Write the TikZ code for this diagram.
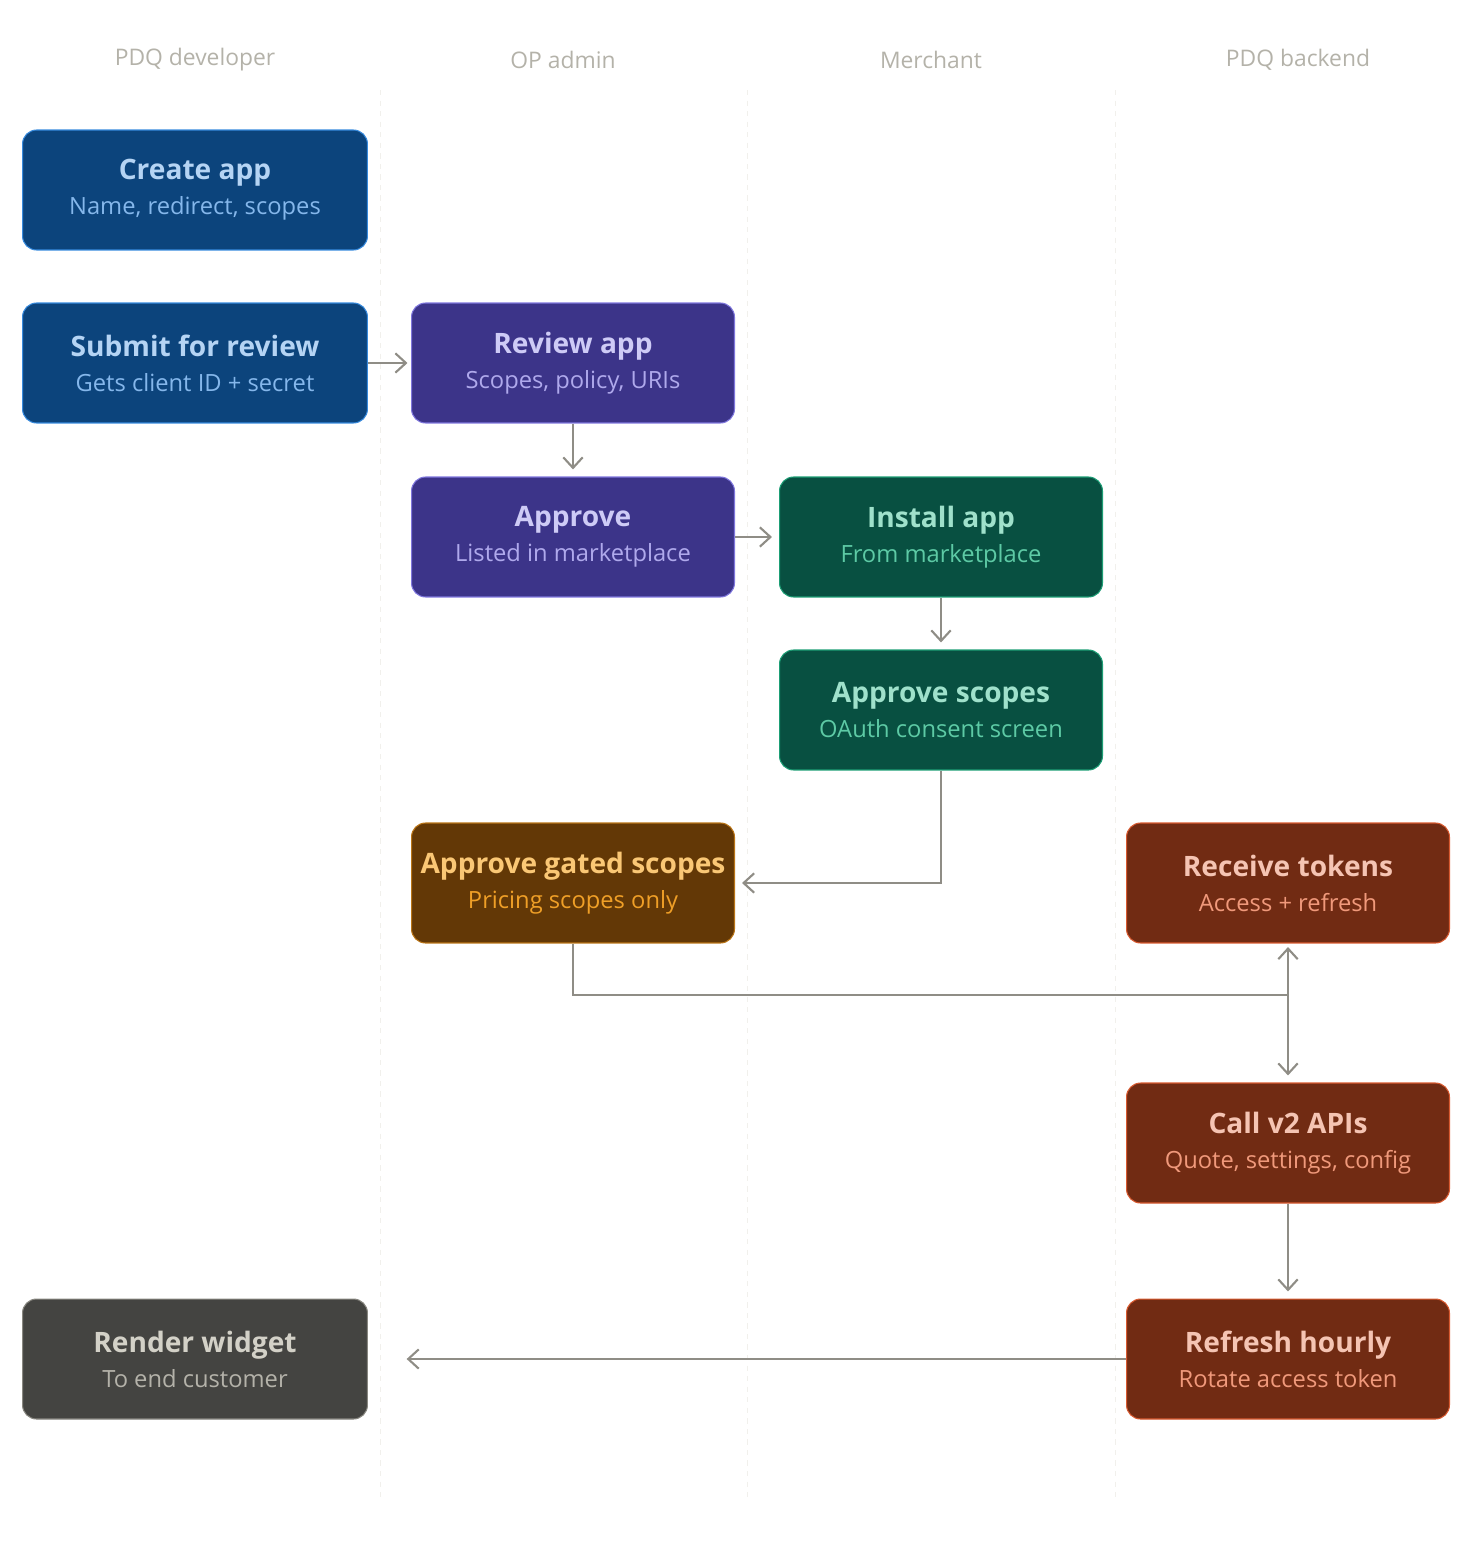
\documentclass[tikz,border=0pt]{standalone}
\usepackage{fontspec}
\setmainfont{Open Sans}
\usetikzlibrary{arrows.meta, positioning}

\definecolor{laneline}{HTML}{F1F0EC}
\definecolor{lanetext}{HTML}{B4B2A9}
\definecolor{wire}{HTML}{8F8D86}
\definecolor{devfill}{HTML}{0C447C}
\definecolor{devline}{HTML}{378ADD}
\definecolor{devhead}{HTML}{B5D4F4}
\definecolor{devsub}{HTML}{85B7EB}
\definecolor{opfill}{HTML}{3C3489}
\definecolor{opline}{HTML}{7F77DD}
\definecolor{ophead}{HTML}{CECBF6}
\definecolor{opsub}{HTML}{AFA9EC}
\definecolor{mfill}{HTML}{085041}
\definecolor{mline}{HTML}{1D9E75}
\definecolor{mhead}{HTML}{9FE1CB}
\definecolor{msub}{HTML}{5DCAA5}
\definecolor{gfill}{HTML}{633806}
\definecolor{gline}{HTML}{BA7517}
\definecolor{ghead}{HTML}{FAC775}
\definecolor{gsub}{HTML}{EF9F27}
\definecolor{bfill}{HTML}{712B13}
\definecolor{bline}{HTML}{D85A30}
\definecolor{bhead}{HTML}{F5C4B3}
\definecolor{bsub}{HTML}{F0997B}
\definecolor{wfill}{HTML}{444441}
\definecolor{wline}{HTML}{888780}
\definecolor{whead}{HTML}{D3D1C7}
\definecolor{wsub}{HTML}{B4B2A9}

\tikzset{
  stepbox/.style={draw, rectangle, rounded corners=0.28cm, line width=0.6pt,
    minimum width=6.46cm, minimum height=2.4cm, align=center,
    font=\fontsize{13.5pt}{20pt}\selectfont},
  devbox/.style={stepbox, fill=devfill, draw=devline, minimum width=6.9cm},
  opbox/.style={stepbox, fill=opfill, draw=opline},
  merchbox/.style={stepbox, fill=mfill, draw=mline},
  gatebox/.style={stepbox, fill=gfill, draw=gline},
  backbox/.style={stepbox, fill=bfill, draw=bline},
  widgetbox/.style={stepbox, fill=wfill, draw=wline, minimum width=6.9cm},
  lanelabel/.style={text=lanetext, font=\fontsize{13pt}{15pt}\selectfont},
  flowarrow/.style={draw=wire, line width=1.2pt, -{Straight Barb[length=6pt, width=11pt]}},
  flowline/.style={draw=wire, line width=1.2pt}
}

\begin{document}
\begin{tikzpicture}[x=0.02cm, y=-0.02cm]
        \useasboundingbox (0,0) rectangle (1472,1558);

        % lanes
        \foreach \x in {380, 747, 1115}
            \draw[laneline, dash pattern=on 3pt off 3pt] (\x,90) -- (\x,1500);
        \node (hdev) [lanelabel] at (195,60) {PDQ developer};
        \node (hop) [lanelabel] at (563,60) {OP admin};
        \node (hmerch) [lanelabel] at (931,60) {Merchant};
        \node (hback) [lanelabel] at (1298,60) {PDQ backend};

        % steps
        \node (create) [devbox] at (195,190) {\textcolor{devhead}{\fontsize{16pt}{20pt}\selectfont\bfseries Create app}\\\textcolor{devsub}{Name, redirect, scopes}};
        \node (submit) [devbox] at (195,363) {\textcolor{devhead}{\fontsize{16pt}{20pt}\selectfont\bfseries Submit for review}\\\textcolor{devsub}{Gets client ID + secret}};
        \node (review) [opbox] at (573,363) {\textcolor{ophead}{\fontsize{16pt}{20pt}\selectfont\bfseries Review app}\\\textcolor{opsub}{Scopes, policy, URIs}};
        \node (approve) [opbox] at (573,537) {\textcolor{ophead}{\fontsize{16pt}{20pt}\selectfont\bfseries Approve}\\\textcolor{opsub}{Listed in marketplace}};
        \node (install) [merchbox] at (941,537) {\textcolor{mhead}{\fontsize{16pt}{20pt}\selectfont\bfseries Install app}\\\textcolor{msub}{From marketplace}};
        \node (scopes) [merchbox] at (941,710) {\textcolor{mhead}{\fontsize{16pt}{20pt}\selectfont\bfseries Approve scopes}\\\textcolor{msub}{OAuth consent screen}};
        \node (gated) [gatebox] at (573,883) {\textcolor{ghead}{\fontsize{16pt}{20pt}\selectfont\bfseries Approve gated scopes}\\\textcolor{gsub}{Pricing scopes only}};
        \node (tokens) [backbox] at (1288,883) {\textcolor{bhead}{\fontsize{16pt}{20pt}\selectfont\bfseries Receive tokens}\\\textcolor{bsub}{Access + refresh}};
        \node (calls) [backbox] at (1288,1143) {\textcolor{bhead}{\fontsize{16pt}{20pt}\selectfont\bfseries Call v2 APIs}\\\textcolor{bsub}{Quote, settings, config}};
        \node (refresh) [backbox] at (1288,1359) {\textcolor{bhead}{\fontsize{16pt}{20pt}\selectfont\bfseries Refresh hourly}\\\textcolor{bsub}{Rotate access token}};
        \node (render) [widgetbox] at (195,1359) {\textcolor{whead}{\fontsize{16pt}{20pt}\selectfont\bfseries Render widget}\\\textcolor{wsub}{To end customer}};

        \coordinate (split) at (1288,995);

        % flows
        \draw[flowarrow, shorten >=2pt] (submit) -- (review);
        \draw[flowarrow, shorten >=4pt] (review) -- (approve);
        \draw[flowarrow, shorten >=4pt] (approve) -- (install);
        \draw[flowarrow, shorten >=4pt] (install) -- (scopes);
        \draw[flowarrow, shorten >=4pt] (scopes.south) |- (gated.east);
        \draw[flowline] (gated.south) |- (split);
        \draw[flowarrow, shorten >=2pt] (split) -- (tokens.south);
        \draw[flowarrow, shorten >=4pt] (split) -- (calls.north);
        \draw[flowarrow, shorten >=4pt] (calls) -- (refresh);
        \draw[flowarrow, shorten >=22pt] (refresh) -- (render);
    \end{tikzpicture}
\end{document}
